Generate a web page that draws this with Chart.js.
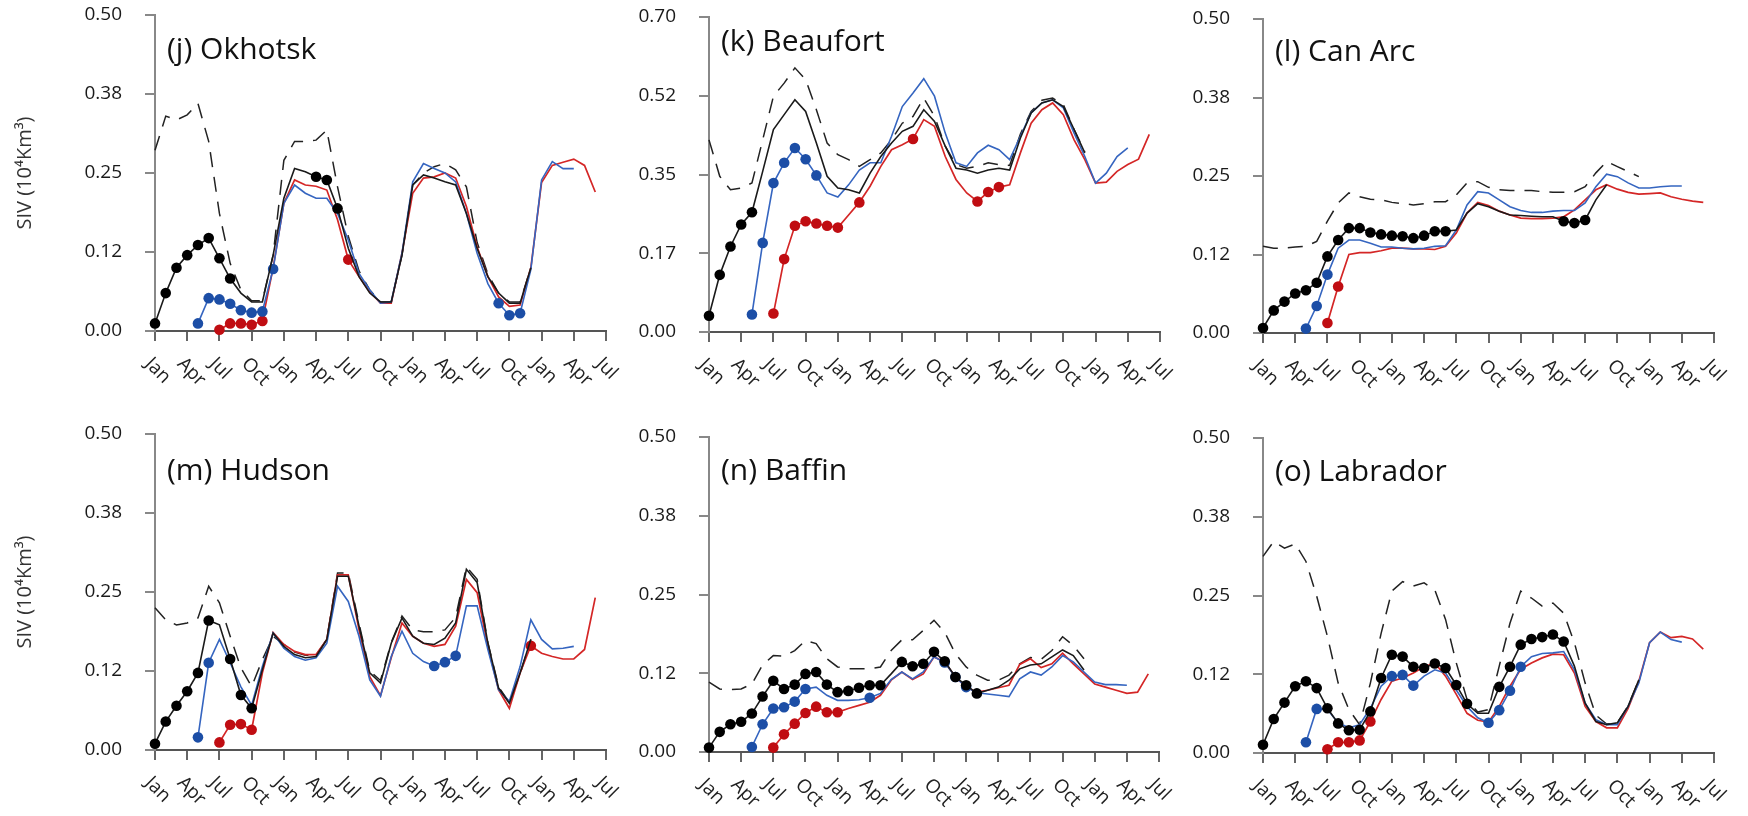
<!DOCTYPE html>
<html>
<head>
<meta charset="utf-8">
<script src="https://cdn.jsdelivr.net/npm/chart.js@4"></script>
<style>
  body { margin: 0; background: #fff; }
  #wrap { position: relative; width: 1748px; height: 816px; overflow: hidden; background: #fff; }
  canvas { position: absolute; }
</style>
</head>
<body>
<div id="wrap"></div>
<script>
// month index 0 = Jan of year 1 ... 42 = Jul of year 4
const tickLabels = ['Jan','Apr','Jul','Oct','Jan','Apr','Jul','Oct','Jan','Apr','Jul','Oct','Jan','Apr','Jul'];
const yLabels05 = ['0.00','0.12','0.25','0.38','0.50'];
const yLabels07 = ['0.00','0.17','0.35','0.52','0.70'];

// (j) Okhotsk
const jBlack = [0.012,0.06,0.10,0.12,0.136,0.147,0.115,0.083,0.06,0.046,0.046,0.12,0.21,0.257,0.252,0.244,0.239,0.194,0.131,0.086,0.06,0.046,0.046,0.12,0.231,0.247,0.242,0.236,0.231,0.186,0.131,0.086,0.06,0.044,0.044,0.10,null,null,null,null,null,null,null];
const jBlue = [null,null,null,null,0.012,0.052,0.05,0.043,0.033,0.029,0.031,0.098,0.202,0.231,0.218,0.21,0.21,0.186,0.144,0.091,0.065,0.044,0.046,0.123,0.236,0.265,0.257,0.25,0.236,0.186,0.123,0.075,0.044,0.025,0.028,0.097,0.239,0.268,0.257,0.257,null,null,null];
const jRed = [null,null,null,null,null,null,0.002,0.012,0.012,0.01,0.016,0.10,0.202,0.239,0.231,0.229,0.223,0.176,0.113,0.086,0.062,0.044,0.044,0.123,0.218,0.242,0.244,0.25,0.242,0.197,0.133,0.086,0.054,0.039,0.041,0.10,0.235,0.262,0.267,0.272,0.262,0.22,null];
const jDash = [0.286,0.34,0.334,0.342,0.36,0.30,0.186,0.107,0.065,0.048,0.048,0.12,0.27,0.30,0.30,0.302,0.318,0.228,0.15,0.095,0.065,0.046,0.046,0.12,0.231,0.25,0.26,0.265,0.255,0.228,0.14,0.09,0.06,0.046,0.046,0.10,null,null,null,null,null,null,null];
const jBlackDots = [[0,7],[15,17]];
const jBlueDots = [[4,11],[32,34]];
const jRedDots = [[6,10],[18,18]];

// (k) Beaufort
const kBlack = [0.036,0.127,0.19,0.239,0.266,0.357,0.45,0.483,0.516,0.49,0.42,0.346,0.32,0.316,0.309,0.353,0.39,0.42,0.446,0.457,0.494,0.468,0.413,0.364,0.36,0.353,0.36,0.364,0.36,0.431,0.487,0.509,0.516,0.501,0.45,0.398,null,null,null,null,null,null,null];
const kBlue = [null,null,null,null,0.039,0.198,0.331,0.376,0.409,0.384,0.348,0.309,0.30,0.327,0.36,0.376,0.376,0.435,0.501,0.531,0.563,0.524,0.442,0.376,0.368,0.398,0.415,0.405,0.383,0.435,0.487,0.509,0.516,0.498,0.442,0.39,0.331,0.353,0.39,0.409,null,null,null];
const kRed = [null,null,null,null,null,null,0.041,0.162,0.236,0.246,0.241,0.236,0.232,0.26,0.288,0.324,0.368,0.405,0.416,0.429,0.472,0.457,0.39,0.339,0.309,0.29,0.311,0.322,0.327,0.398,0.464,0.494,0.509,0.483,0.427,0.383,0.331,0.333,0.357,0.372,0.384,0.439,null];
const kDash = [0.427,0.346,0.316,0.32,0.331,0.427,0.524,0.553,0.587,0.561,0.494,0.42,0.394,0.383,0.368,0.383,0.398,0.427,0.464,0.479,0.52,0.479,0.413,0.372,0.364,0.368,0.376,0.372,0.37,0.44,0.49,0.515,0.52,0.505,0.45,0.40,null,null,null,null,null,null,null];
const kBlackDots = [[0,4]];
const kBlueDots = [[4,10]];
const kRedDots = [[6,12],[14,14],[19,19],[25,27]];

// (l) Can Arc
const lBlack = [0.008,0.036,0.05,0.063,0.068,0.08,0.122,0.148,0.167,0.167,0.16,0.157,0.155,0.154,0.151,0.155,0.162,0.162,0.164,0.191,0.206,0.201,0.194,0.188,0.187,0.186,0.185,0.185,0.178,0.175,0.18,0.212,0.236,null,null,null,null,null,null,null,null,null,null];
const lBlue = [null,null,null,null,0.007,0.043,0.093,0.135,0.148,0.148,0.143,0.137,0.137,0.135,0.134,0.135,0.138,0.139,0.164,0.204,0.225,0.223,0.212,0.201,0.195,0.192,0.192,0.194,0.195,0.195,0.207,0.233,0.253,0.249,0.239,0.231,0.231,0.233,0.234,0.234,null,null,null];
const lRed = [null,null,null,null,null,null,0.016,0.074,0.125,0.128,0.128,0.131,0.135,0.135,0.134,0.134,0.133,0.138,0.159,0.191,0.208,0.203,0.194,0.188,0.183,0.182,0.182,0.183,0.185,0.196,0.212,0.228,0.236,0.229,0.224,0.221,0.222,0.223,0.217,0.213,0.21,0.208,null];
const lDash = [0.138,0.135,0.135,0.137,0.138,0.146,0.178,0.207,0.223,0.217,0.213,0.212,0.208,0.206,0.204,0.206,0.209,0.209,0.22,0.239,0.241,0.232,0.228,0.227,0.227,0.227,0.225,0.224,0.224,0.225,0.233,0.255,0.273,0.265,0.257,0.249,null,null,null,null,null,null,null];
const lBlackDots = [[0,17],[28,30]];
const lBlueDots = [[4,6]];
const lRedDots = [[6,7]];

// (m) Hudson
const mBlack = [0.01,0.045,0.07,0.093,0.122,0.205,0.198,0.144,0.087,0.066,0.127,0.185,0.164,0.151,0.146,0.148,0.175,0.275,0.275,0.196,0.122,0.106,0.169,0.209,0.18,0.169,0.167,0.177,0.201,0.286,0.265,0.169,0.098,0.074,0.122,0.175,null,null,null,null,null,null,null];
const mBlue = [null,null,null,null,0.02,0.138,0.175,0.138,0.10,0.071,0.132,0.185,0.161,0.148,0.142,0.146,0.169,0.259,0.235,0.18,0.111,0.085,0.148,0.188,0.153,0.14,0.133,0.139,0.149,0.228,0.228,0.159,0.095,0.077,0.132,0.206,0.175,0.16,0.161,0.164,null,null,null];
const mRed = [null,null,null,null,null,null,0.012,0.04,0.041,0.032,0.122,0.186,0.167,0.156,0.151,0.151,0.175,0.277,0.277,0.19,0.116,0.086,0.146,0.201,0.18,0.169,0.164,0.167,0.196,0.27,0.249,0.164,0.095,0.066,0.122,0.165,0.153,0.148,0.144,0.144,0.159,0.241,null];
const mDash = [0.225,0.206,0.198,0.201,0.209,0.259,0.233,0.18,0.13,0.10,0.143,0.18,0.167,0.155,0.15,0.15,0.175,0.28,0.28,0.20,0.125,0.11,0.17,0.212,0.19,0.187,0.187,0.19,0.21,0.29,0.27,0.17,0.10,0.075,0.12,0.175,null,null,null,null,null,null,null];
const mBlackDots = [[0,5],[7,9]];
const mBlueDots = [[4,5],[26,28]];
const mRedDots = [[6,9],[35,35]];

// (n) Baffin
const nBlack = [0.007,0.032,0.044,0.048,0.061,0.088,0.113,0.10,0.107,0.124,0.127,0.107,0.095,0.097,0.102,0.106,0.106,0.124,0.143,0.136,0.14,0.159,0.144,0.119,0.106,0.093,0.098,0.103,0.114,0.132,0.138,0.14,0.151,0.162,0.153,0.13,null,null,null,null,null,null,null];
const nBlue = [null,null,null,null,0.008,0.044,0.069,0.071,0.08,0.10,0.103,0.09,0.082,0.082,0.083,0.086,0.093,0.115,0.127,0.116,0.127,0.151,0.142,0.119,0.103,0.094,0.092,0.09,0.088,0.116,0.127,0.122,0.135,0.153,0.143,0.127,0.111,0.107,0.107,0.106,null,null,null];
const nRed = [null,null,null,null,null,null,0.007,0.028,0.045,0.062,0.072,0.063,0.063,0.069,0.074,0.079,0.09,0.114,0.127,0.115,0.124,0.151,0.143,0.119,0.103,0.095,0.098,0.102,0.106,0.139,0.148,0.134,0.14,0.157,0.14,0.124,0.108,0.103,0.098,0.093,0.095,0.124,null];
const nDash = [0.111,0.10,0.099,0.10,0.108,0.138,0.153,0.152,0.161,0.177,0.172,0.148,0.135,0.132,0.132,0.132,0.135,0.161,0.178,0.178,0.193,0.209,0.19,0.156,0.135,0.122,0.114,0.114,0.122,0.14,0.15,0.147,0.161,0.183,0.169,0.148,null,null,null,null,null,null,null];
const nBlackDots = [[0,16],[18,25]];
const nBlueDots = [[4,9],[15,15],[22,24]];
const nRedDots = [[6,12]];

// (o) Labrador
const oBlack = [0.013,0.054,0.08,0.106,0.114,0.103,0.071,0.047,0.036,0.037,0.066,0.119,0.156,0.153,0.137,0.135,0.142,0.135,0.108,0.078,0.063,0.063,0.105,0.137,0.172,0.181,0.184,0.188,0.177,0.138,0.079,0.05,0.045,0.048,0.074,0.116,null,null,null,null,null,null,null];
const oBlue = [null,null,null,null,0.017,0.07,0.069,0.048,0.04,0.045,0.071,0.106,0.122,0.124,0.107,0.122,0.132,0.127,0.10,0.074,0.056,0.048,0.068,0.099,0.137,0.153,0.158,0.159,0.161,0.132,0.079,0.053,0.045,0.045,0.074,0.111,0.175,0.192,0.18,0.176,null,null,null];
const oRed = [null,null,null,null,null,null,0.006,0.017,0.017,0.02,0.05,0.085,0.114,0.119,0.127,0.137,0.143,0.122,0.093,0.063,0.052,0.049,0.074,0.106,0.133,0.143,0.151,0.157,0.156,0.127,0.074,0.05,0.04,0.04,0.071,0.114,0.175,0.192,0.183,0.185,0.181,0.165,null];
const oDash = [0.312,0.336,0.325,0.332,0.304,0.249,0.185,0.111,0.069,0.045,0.111,0.19,0.257,0.272,0.265,0.27,0.259,0.212,0.143,0.085,0.065,0.069,0.138,0.206,0.257,0.246,0.233,0.238,0.222,0.175,0.111,0.06,0.046,0.048,0.075,0.116,null,null,null,null,null,null,null];
const oBlackDots = [[0,19],[22,28]];
const oBlueDots = [[4,5],[12,14],[21,24]];
const oRedDots = [[6,10]];

// plot boxes: [left, top, right, bottom] of each axis frame in page pixels
const panels = [
  { title: '(j) Okhotsk', titleDy: 35, yMax: 0.5, yLabels: yLabels05, yTitle: true, box: [155, 15, 606, 331],
    black: jBlack, blue: jBlue, red: jRed, dash: jDash, blackDots: jBlackDots, blueDots: jBlueDots, redDots: jRedDots },
  { title: '(k) Beaufort', titleDy: 25, yMax: 0.7, yLabels: yLabels07, yTitle: false, box: [709, 17, 1160, 332],
    black: kBlack, blue: kBlue, red: kRed, dash: kDash, blackDots: kBlackDots, blueDots: kBlueDots, redDots: kRedDots },
  { title: '(l) Can Arc', titleDy: 33, yMax: 0.5, yLabels: yLabels05, yTitle: false, box: [1263, 19, 1714, 333],
    black: lBlack, blue: lBlue, red: lRed, dash: lDash, blackDots: lBlackDots, blueDots: lBlueDots, redDots: lRedDots },
  { title: '(m) Hudson', titleDy: 37, yMax: 0.5, yLabels: yLabels05, yTitle: true, box: [155, 434, 606, 750],
    black: mBlack, blue: mBlue, red: mRed, dash: mDash, blackDots: mBlackDots, blueDots: mBlueDots, redDots: mRedDots },
  { title: '(n) Baffin', titleDy: 34, yMax: 0.5, yLabels: yLabels05, yTitle: false, box: [709, 437, 1159, 752],
    black: nBlack, blue: nBlue, red: nRed, dash: nDash, blackDots: nBlackDots, blueDots: nBlueDots, redDots: nRedDots },
  { title: '(o) Labrador', titleDy: 34, yMax: 0.5, yLabels: yLabels05, yTitle: false, box: [1263, 438, 1714, 753],
    black: oBlack, blue: oBlue, red: oRed, dash: oDash, blackDots: oBlackDots, blueDots: oBlueDots, redDots: oRedDots }
];

Chart.defaults.font.family = '"Open Sans", sans-serif';

const inRanges = (i, ranges) => ranges.some(([a, b]) => i >= a && i <= b);

function series(values, dots, color, dotColor, width, dash) {
  return {
    data: values.map((v, i) => ({ x: i, y: v })),
    borderColor: color,
    borderWidth: width,
    borderDash: dash || [],
    pointRadius: ctx => (dots && inRanges(ctx.dataIndex, dots)) ? 5.3 : 0,
    pointHoverRadius: 0,
    pointBackgroundColor: dotColor,
    pointBorderWidth: 0,
    tension: 0,
    spanGaps: false,
    clip: false,
    fill: false
  };
}

const panelText = {
  id: 'panelText',
  afterDraw(chart, args, opts) {
    const ctx = chart.ctx, xs = chart.scales.x, area = chart.chartArea;
    ctx.save();
    ctx.fillStyle = '#222';
    ctx.font = '19px "Open Sans"';
    ctx.textAlign = 'left';
    ctx.textBaseline = 'middle';
    xs.ticks.forEach((t, i) => {
      const px = xs.getPixelForValue(t.value);
      ctx.save();
      ctx.translate(px - 7, xs.top + 30);
      ctx.rotate(Math.PI / 4);
      ctx.fillText(tickLabels[i], 0, 0);
      ctx.restore();
    });
    ctx.fillStyle = '#111';
    ctx.font = '30px "Open Sans"';
    ctx.fillText(opts.title, area.left + 12, area.top + opts.titleDy);
    ctx.restore();
  }
};

// the y tick padding is added by Chart.js above the top tick, so leave room for it
const PAD_T = 40, PAD_R = 36, X_H = 66;
const wrap = document.getElementById('wrap');

panels.forEach(p => {
  const [l, t, r, b] = p.box;
  const yW = p.yTitle ? l : 80;
  const cv = document.createElement('canvas');
  cv.width = yW + (r - l) + PAD_R;
  cv.height = PAD_T + (b - t) + X_H;
  cv.style.width = cv.width + 'px';
  cv.style.height = cv.height + 'px';
  cv.style.left = (l - yW) + 'px';
  cv.style.top = (t - PAD_T) + 'px';
  wrap.appendChild(cv);

  const step = p.yMax / 4;
  new Chart(cv, {
    type: 'line',
    data: {
      datasets: [
        series(p.black, p.blackDots, '#1a1a1a', '#000', 1.6),
        series(p.blue, p.blueDots, '#3565c0', '#1c4ea6', 1.6),
        series(p.red, p.redDots, '#d42626', '#c00d12', 1.7),
        series(p.dash, null, '#222', '#222', 1.5, [15, 10])
      ]
    },
    options: {
      responsive: false,
      animation: false,
      events: [],
      layout: { padding: { top: PAD_T, right: PAD_R, left: 0, bottom: 0 } },
      plugins: {
        legend: { display: false },
        tooltip: { enabled: false },
        panelText: { title: p.title, titleDy: p.titleDy }
      },
      scales: {
        x: {
          type: 'linear',
          min: 0,
          max: 42,
          ticks: { stepSize: 3, display: false },
          grid: { drawOnChartArea: false, tickLength: 10, color: '#666', lineWidth: 2 },
          border: { color: '#555', width: 2 },
          afterFit: s => { s.height = X_H; }
        },
        y: {
          min: 0,
          max: p.yMax,
          ticks: {
            stepSize: step,
            padding: 23,
            color: '#1a1a1a',
            font: { size: 19 },
            callback: v => p.yLabels[Math.round(v / step)]
          },
          grid: { drawOnChartArea: false, tickLength: 10, color: '#888', lineWidth: 2 },
          border: { color: '#888', width: 2 },
          title: {
            display: p.yTitle,
            text: 'SIV (10⁴Km³)',
            color: '#333',
            font: { size: 20 },
            padding: { top: 13, bottom: 0 }
          },
          afterFit: s => { s.width = yW; }
        }
      }
    },
    plugins: [panelText]
  });
});
</script>
</body>
</html>
